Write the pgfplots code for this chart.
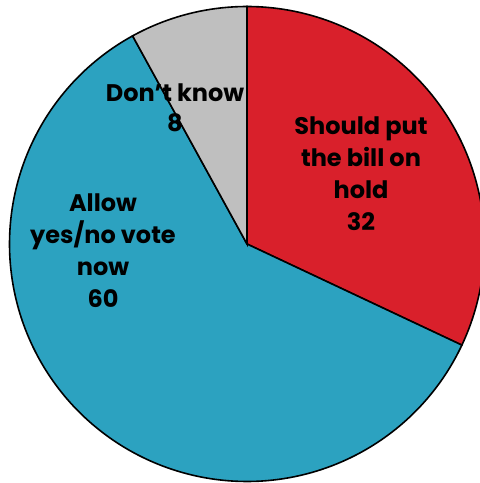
\documentclass[border=0pt]{standalone}
\usepackage{fontspec}
\setmainfont{Poppins}
\usepackage{pgfplots}
\pgfplotsset{compat=1.18}
\definecolor{pieRed}{RGB}{217,32,43}
\definecolor{pieBlue}{RGB}{44,162,192}
\definecolor{pieGray}{RGB}{191,191,191}
\begin{document}
\begin{tikzpicture}
% values (percent)
\def\vHold{32}
\def\vAllow{60}
\def\vDK{8}
\pgfmathsetmacro{\aA}{90}
\pgfmathsetmacro{\aB}{90-3.6*\vHold}
\pgfmathsetmacro{\aC}{\aB-3.6*\vAllow}
\pgfmathsetmacro{\aD}{\aC-3.6*\vDK}
\begin{axis}[scale only axis, width=240pt, height=241.5pt,
  xmin=0, xmax=480, ymin=0, ymax=483, hide axis, clip=true]
\addplot[fill=pieRed, draw=black, line width=0.8pt, domain=\aA:\aB, samples=120, variable=\t]
  ({247+237.5*cos(\t)},{239+237.5*sin(\t)}) -- (axis cs:247,239) -- cycle;
\addplot[fill=pieBlue, draw=black, line width=0.8pt, domain=\aB:\aC, samples=200, variable=\t]
  ({247+237.5*cos(\t)},{239+237.5*sin(\t)}) -- (axis cs:247,239) -- cycle;
\addplot[fill=pieGray, draw=black, line width=0.8pt, domain=\aC:\aD, samples=40, variable=\t]
  ({247+237.5*cos(\t)},{239+237.5*sin(\t)}) -- (axis cs:247,239) -- cycle;
\node[align=center, font=\fontsize{12}{16}\selectfont\bfseries] at (axis cs:361,309.5)
  {Should put\\the bill on\\hold\\\vHold};
\node[align=center, font=\fontsize{12}{16}\selectfont\bfseries] at (axis cs:103,232.5)
  {Allow\\yes/no vote\\now\\\vAllow};
\node[align=center, font=\fontsize{12}{15}\selectfont\bfseries] at (axis cs:175,375.5)
  {Don't know\\\vDK};
\end{axis}
\pgfresetboundingbox
\path[use as bounding box] (current axis.south west) rectangle (current axis.north east);
\end{tikzpicture}
\end{document}
